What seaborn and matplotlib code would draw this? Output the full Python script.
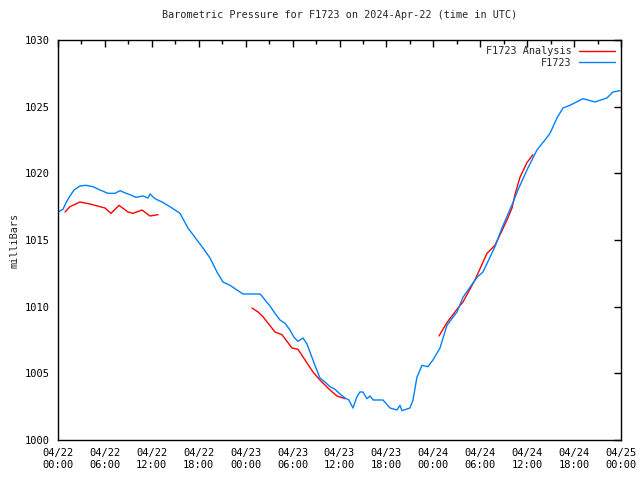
import numpy as np
import pandas as pd
import matplotlib
matplotlib.use("Agg")
import matplotlib.pyplot as plt
import matplotlib.dates as mdates
from matplotlib.lines import Line2D
import seaborn as sns

sns.set_theme(style="white")
plt.rcParams['font.family'] = ['DejaVu Sans Mono']
plt.rcParams['font.size'] = 7.3

# hours after 2024-04-22 00:00 UTC
obs_hours = [0.0, 0.64, 1.02, 1.53, 2.05, 2.81, 3.58, 4.48, 5.37, 6.39, 7.29, 7.93, 8.70, 9.21,
             9.97, 10.87, 11.51, 11.76, 12.40, 13.30, 14.32, 15.6, 16.62, 17.77, 18.54, 19.44,
             20.33, 21.1, 22.0, 22.89, 23.66, 24.55, 25.83, 26.09,
             26.47, 27.11, 27.75, 28.39, 29.03, 29.67, 30.18, 30.69, 31.33, 31.84, 32.35, 32.86,
             33.50, 34.14, 34.78, 35.42, 36.06, 36.70, 37.2, 37.72, 38.2, 38.6, 39.0, 39.5, 39.9,
             40.3, 40.8, 41.56, 42.46, 43.35, 43.73, 43.99, 45.01, 45.4, 45.9, 46.55, 47.3, 47.95,
             48.85, 49.74, 51.02, 51.79, 53.58, 54.35, 55.88, 56.78, 58.18, 58.82, 59.97, 61.25,
             62.28, 62.92, 63.81, 64.58, 65.47, 67.14, 68.67, 70.2, 70.97, 71.87]
obs_mb = [1017.1, 1017.3, 1017.8, 1018.3, 1018.75, 1019.05, 1019.1, 1019.0, 1018.75, 1018.5,
          1018.5, 1018.7, 1018.5, 1018.4, 1018.2, 1018.3, 1018.15, 1018.45, 1018.1, 1017.85,
          1017.5, 1017.0, 1015.9, 1015.0, 1014.4, 1013.65, 1012.6, 1011.85, 1011.6, 1011.25,
          1010.95, 1010.95, 1010.95, 1010.8, 1010.5, 1010.05,
          1009.5, 1009.0, 1008.75, 1008.25, 1007.7, 1007.4, 1007.65, 1007.2, 1006.4, 1005.6,
          1004.65, 1004.35, 1004.0, 1003.8, 1003.45, 1003.15, 1003.0, 1002.4, 1003.2, 1003.6,
          1003.6, 1003.1, 1003.3, 1003.0, 1003.0, 1003.0, 1002.4, 1002.25, 1002.6, 1002.2,
          1002.4, 1003.0, 1004.7, 1005.6, 1005.5, 1006.0, 1006.9, 1008.6, 1009.6, 1010.7,
          1012.2, 1012.6, 1014.5, 1015.9, 1017.8, 1018.75, 1020.25, 1021.75, 1022.5, 1023.0,
          1024.15, 1024.9, 1025.1, 1025.6, 1025.35, 1025.65, 1026.1, 1026.2]

ana1_hours = [0.9, 1.53, 2.81, 4.09, 5.37, 6.01, 6.78, 7.80, 8.95, 9.59, 10.74, 11.76, 12.79]
ana1_mb = [1017.1, 1017.5, 1017.85, 1017.7, 1017.5, 1017.4, 1017.0, 1017.6, 1017.1, 1017.0,
           1017.25, 1016.8, 1016.9]
ana2_hours = [24.81, 25.58, 26.21, 27.75, 28.64, 29.92, 30.69, 32.61, 33.5, 34.78, 35.68, 36.70]
ana2_mb = [1009.9, 1009.6, 1009.25, 1008.1, 1007.9, 1006.9, 1006.8, 1005.1, 1004.5, 1003.75,
           1003.3, 1003.1]
ana3_hours = [48.72, 49.74, 51.02, 51.79, 53.32, 54.86, 55.88, 57.42, 58.06, 58.44, 59.08,
              59.97, 60.74]
ana3_mb = [1007.8, 1008.8, 1009.8, 1010.35, 1012.0, 1014.0, 1014.6, 1016.5, 1017.4, 1018.4,
           1019.7, 1020.8, 1021.4]

RED = "#ff0000"
BLUE = "#0080ff"

t0 = pd.Timestamp("2024-04-22 00:00")
obs = pd.DataFrame({"time": t0 + pd.to_timedelta(obs_hours, unit="h"), "mb": obs_mb})
ana = pd.concat([
    pd.DataFrame({"time": t0 + pd.to_timedelta(h, unit="h"), "mb": v, "seg": i})
    for i, (h, v) in enumerate([(ana1_hours, ana1_mb), (ana2_hours, ana2_mb), (ana3_hours, ana3_mb)])
])

fig = plt.figure(figsize=(6.4, 4.8), dpi=100)
ax = fig.add_axes([58/640, 40/480, 563/640, 400/480])

sns.lineplot(data=ana, x="time", y="mb", units="seg", estimator=None, color=RED,
             lw=1, ax=ax, legend=False)
sns.lineplot(data=obs, x="time", y="mb", color=BLUE, lw=1, ax=ax, legend=False)

ax.set_xlim(t0, t0 + pd.Timedelta(hours=72))
ax.set_ylim(1000, 1030)
ax.set_yticks(np.arange(1000, 1031, 5))
ax.xaxis.set_major_locator(mdates.HourLocator(byhour=[0, 6, 12, 18]))
ax.xaxis.set_minor_locator(mdates.HourLocator(byhour=[3, 9, 15, 21]))
ax.xaxis.set_major_formatter(mdates.DateFormatter("%m/%d\n%H:%M"))
ax.tick_params(which="both", direction="in", top=True, right=True, colors="black",
               labelsize=7.5, pad=6)
ax.tick_params(which="major", length=5, width=1)
ax.tick_params(which="minor", length=3, width=1)
for s in ax.spines.values():
    s.set_color("black")
    s.set_linewidth(1)

ax.set_xlabel("")
ax.set_ylabel("milliBars", fontsize=7.3)
ax.set_title("Barometric Pressure for F1723 on 2024-Apr-22 (time in UTC)", fontsize=7.3, pad=16)
handles = [Line2D([], [], color=RED, lw=1), Line2D([], [], color=BLUE, lw=1)]
ax.legend(handles, ["F1723 Analysis", "F1723"], loc="upper right", frameon=False,
          markerfirst=False, fontsize=7.3, handlelength=3.5, borderaxespad=0.2,
          labelspacing=0.15)

fig.savefig("out.png", dpi=100)
